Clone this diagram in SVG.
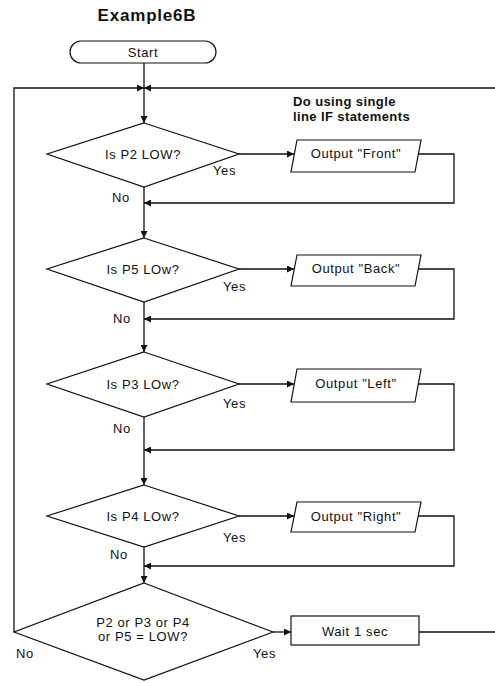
<svg xmlns="http://www.w3.org/2000/svg" width="495" height="683" viewBox="0 0 495 683">
<style>
.s{fill:#fff;stroke:#111;stroke-width:1.2}
.c{fill:none;stroke:#111;stroke-width:1.3}
.t{font-family:"Liberation Sans",Arial,sans-serif;font-size:13px;letter-spacing:0.6px;fill:#111}
.m{text-anchor:middle}
.b{font-weight:bold;letter-spacing:0.4px}
</style>
<defs>
<marker id="a" viewBox="0 0 10 10" refX="10" refY="5" markerWidth="9" markerHeight="7" markerUnits="userSpaceOnUse" orient="auto"><path d="M0,0 L10,5 L0,10 z" fill="#111"/></marker>
</defs>
<rect width="495" height="683" fill="#fff"/>
<text class="t b m" x="147" y="21" style="font-size:17px;letter-spacing:0.8px">Example6B</text>
<text class="t b" x="293" y="106">Do using single</text>
<text class="t b" x="293" y="121">line IF  statements</text>

<g id="connectors">
<path class="c" d="M144,63 V88"/>
<path class="c" d="M14,632 V88 H144" marker-end="url(#a)"/>
<path class="c" d="M495,88 H144" marker-end="url(#a)"/>
<path class="c" d="M144,88 V123" marker-end="url(#a)"/>
<path class="c" d="M239,154 H294" marker-end="url(#a)"/>
<path class="c" d="M418,154 H454 V203 H144" marker-end="url(#a)"/>
<path class="c" d="M144,187 V238" marker-end="url(#a)"/>
<path class="c" d="M239,269 H294" marker-end="url(#a)"/>
<path class="c" d="M418,269 H454 V319 H144" marker-end="url(#a)"/>
<path class="c" d="M144,302 V352" marker-end="url(#a)"/>
<path class="c" d="M239,384 H294" marker-end="url(#a)"/>
<path class="c" d="M418,384 H454 V450 H144" marker-end="url(#a)"/>
<path class="c" d="M144,417 V485" marker-end="url(#a)"/>
<path class="c" d="M239,516 H294" marker-end="url(#a)"/>
<path class="c" d="M418,516 H454 V566 H144" marker-end="url(#a)"/>
<path class="c" d="M144,547 V583" marker-end="url(#a)"/>
<path class="c" d="M273,632 H291" marker-end="url(#a)"/>
<path class="c" d="M419,632 H495"/>
<text class="t" x="213" y="175">Yes</text>
<text class="t" x="112" y="202">No</text>
<text class="t" x="223" y="291">Yes</text>
<text class="t" x="113" y="323">No</text>
<text class="t" x="223" y="408">Yes</text>
<text class="t" x="113" y="433">No</text>
<text class="t" x="223" y="542">Yes</text>
<text class="t" x="110" y="559">No</text>
<text class="t" x="253" y="658">Yes</text>
<text class="t" x="16" y="658">No</text>
</g>

<g id="start">
<rect class="s" x="70" y="41" width="146" height="22" rx="11"/>
<text class="t m" x="143" y="57">Start</text>
</g>

<g id="d1">
<polygon class="s" points="144,123 239,154 144,187 47,154"/>
<text class="t m" x="143" y="159">Is P2 LOW?</text>
</g>
<g id="o1">
<polygon class="s" points="297,140 421,140 415,172 291,172"/>
<text class="t m" x="356" y="158">Output "Front"</text>
</g>

<g id="d2">
<polygon class="s" points="144,238 239,269 144,302 47,269"/>
<text class="t m" x="143" y="274">Is P5 LOw?</text>
</g>
<g id="o2">
<polygon class="s" points="297,255 421,255 415,286 291,286"/>
<text class="t m" x="356" y="273">Output "Back"</text>
</g>

<g id="d3">
<polygon class="s" points="144,352 239,384 144,417 47,384"/>
<text class="t m" x="143" y="389">Is P3 LOw?</text>
</g>
<g id="o3">
<polygon class="s" points="297,369 421,369 415,402 291,402"/>
<text class="t m" x="356" y="388">Output "Left"</text>
</g>

<g id="d4">
<polygon class="s" points="144,485 239,516 144,547 47,516"/>
<text class="t m" x="143" y="521">Is P4 LOw?</text>
</g>
<g id="o4">
<polygon class="s" points="297,502 421,502 415,532 291,532"/>
<text class="t m" x="356" y="521">Output "Right"</text>
</g>

<g id="d5">
<polygon class="s" points="144,583 273,632 144,680 14,632"/>
<text class="t m" x="143" y="627">P2 or P3 or P4</text>
<text class="t m" x="143" y="641">or P5 = LOW?</text>
</g>
<g id="wait">
<rect class="s" x="291" y="616" width="128" height="29"/>
<text class="t m" x="355" y="636">Wait 1 sec</text>
</g>
</svg>
